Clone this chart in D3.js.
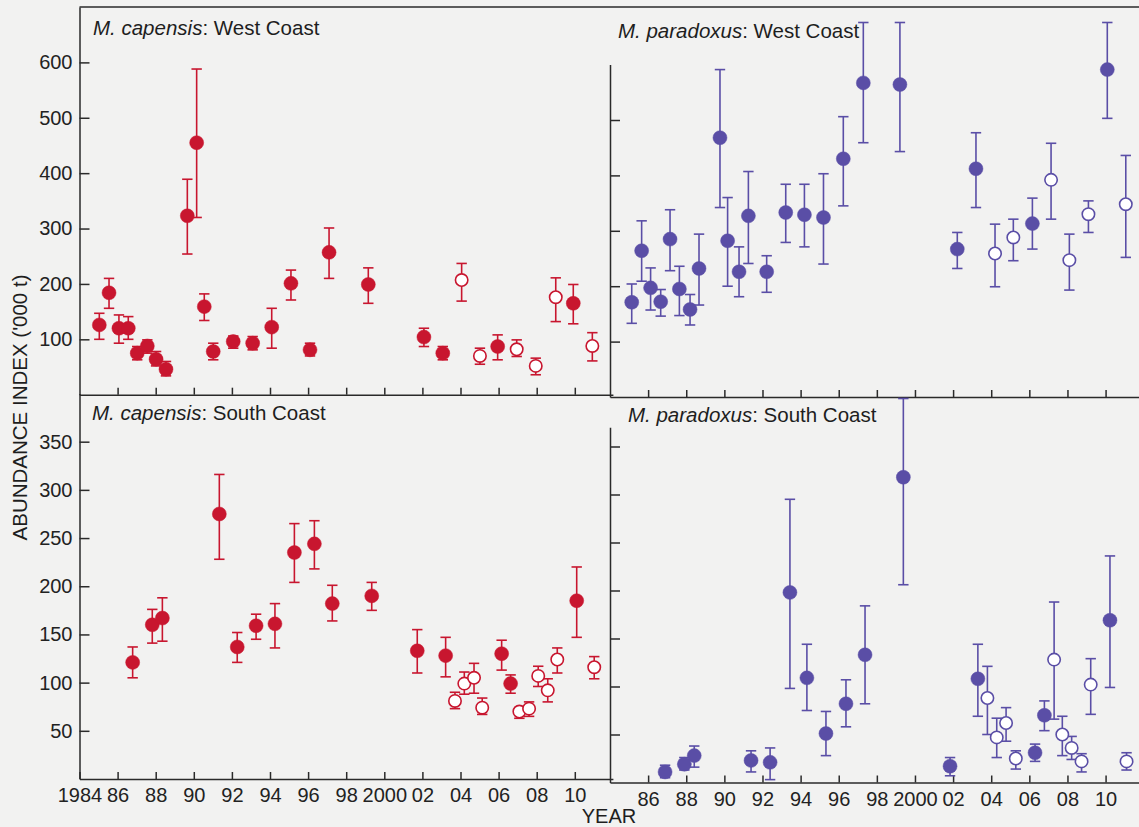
<!DOCTYPE html>
<html><head><meta charset="utf-8">
<script src="https://cdn.jsdelivr.net/npm/d3@7"></script>
<style>
html,body{margin:0;padding:0;background:#f2f2f1;}
svg{display:block;font-family:"Liberation Sans",Arial,Helvetica,sans-serif;}
</style></head><body>
<svg id="chart" width="1139" height="827"></svg>
<script>
// ---------- DATA ----------
// M. capensis : West Coast
const capWestYear = [1985.04,1985.55,1986.07,1986.56,1987.03,1987.56,1988.02,1988.54,1989.66,1990.15,1990.55,1991.02,1992.07,1993.09,1994.09,1995.1,1996.1,1997.1,1999.16,2002.08,2003.07,2004.06,2005.02,2005.95,2006.95,2007.95,2009.0,2009.92,2010.92];
const capWestVal  = [126,184,120,120,75,88,64,46,323,455,159,78,96,93,122,201,81,257,199,104,75,207,70,87,82,52,176,165,88];
const capWestLo   = [100,156,93,100,63,75,52,34,254,320,134,63,84,81,84,171,70,210,165,87,63,169,55,63,69,36,132,128,61];
const capWestHi   = [147,210,144,141,87,99,78,60,389,588,182,93,106,105,156,225,93,301,229,120,87,237,84,108,99,66,211,199,112];
const capWestOpen = [0,0,0,0,0,0,0,0,0,0,0,0,0,0,0,0,0,0,0,0,0,1,1,0,1,1,1,0,1];

// M. paradoxus : West Coast
const parWestYear = [1985.14,1985.66,1986.13,1986.66,1987.15,1987.64,1988.2,1988.67,1989.77,1990.17,1990.77,1991.26,1992.22,1993.22,1994.2,1995.2,1996.24,1997.29,1999.21,2002.22,2003.2,2004.2,2005.16,2006.16,2007.14,2008.1,2009.1,2010.09,2011.06];
const parWestVal  = [171,264,197,172,285,195,158,232,468,282,226,327,226,333,329,324,430,567,564,267,412,259,288,313,392,247,330,591,348];
const parWestLo   = [133,209,157,146,228,147,130,166,342,200,181,241,189,279,271,240,345,459,443,232,342,199,246,267,321,193,297,503,252];
const parWestHi   = [204,318,233,194,338,236,185,294,591,360,271,407,255,384,384,403,506,676,676,297,477,312,321,359,458,294,354,676,436];
const parWestOpen = [0,0,0,0,0,0,0,0,0,0,0,0,0,0,0,0,0,0,0,0,0,1,1,0,1,1,1,0,1];

// M. capensis : South Coast
const capSouthYear = [1986.79,1987.82,1988.35,1991.34,1992.28,1993.27,1994.26,1995.28,1996.33,1997.27,1999.34,2001.73,2003.22,2003.71,2004.2,2004.71,2005.14,2006.16,2006.63,2007.09,2007.6,2008.08,2008.58,2009.08,2010.1,2011.02];
const capSouthVal  = [121,160,167,275,137,159,161,235,244,182,190,133,128,81,99,105,74,130,99,70,73,107,92,124,185,116];
const capSouthLo   = [105,141,143,228,121,145,136,204,218,164,175,110,106,73,88,89,67,113,89,63,65,96,80,110,147,104];
const capSouthHi   = [137,176,188,316,152,171,182,265,268,201,204,155,147,90,111,120,84,144,108,74,80,117,104,136,220,127];
const capSouthOpen = [0,0,0,0,0,0,0,0,0,0,0,0,0,1,1,1,1,0,0,1,1,1,1,1,0,1];

// M. paradoxus : South Coast
const parSouthYear = [1986.89,1987.9,1988.42,1991.4,1992.4,1993.44,1994.33,1995.33,1996.38,1997.38,1999.39,2001.84,2003.3,2003.8,2004.29,2004.78,2005.29,2006.3,2006.79,2007.3,2007.73,2008.22,2008.74,2009.22,2010.23,2011.1];
const parSouthVal  = [11,19,28,23,21,198,109,51,82,133,318,17,108,88,47,62,25,31,70,128,50,36,22,102,169,22];
const parSouthLo   = [5,13,16,11,3,98,75,28,58,82,206,7,69,50,26,43,14,22,54,66,28,24,11,71,99,13];
const parSouthHi   = [18,26,38,33,36,295,144,74,107,184,400,26,144,121,67,78,33,40,85,188,69,48,30,129,236,31];
const parSouthOpen = [0,0,0,0,0,0,0,0,0,0,0,0,0,1,1,1,1,0,0,1,1,1,1,1,0,1];

// Tick values
const yTicksWest = [100,200,300,400,500,600];
const yTicksWestRight = [100,200,300,400,500];
const yTicksSouth = [50,100,150,200,250,300,350];
const xTicksLeft = [1984,1986,1988,1990,1992,1994,1996,1998,2000,2002,2004,2006,2008,2010];
const xTicksRight = [1986,1988,1990,1992,1994,1996,1998,2000,2002,2004,2006,2008,2010];

const yAxisTitle = "ABUNDANCE INDEX ('000 t)";
const xAxisTitle = "YEAR";

// ---------- DRAWING ----------
const RED = "#c8162f", BLUE = "#5a4ea6", INK = "#2a2a2a";
const svg = d3.select("#chart");
svg.append("rect").attr("width",1139).attr("height",827).attr("fill","#f2f2f1");

const fmtYear = d => (d === 1984 || d === 2000) ? String(d) : String(d).slice(2);

const panels = [
  {sp:"M. capensis", rest:": West Coast", tx:93, ty:35,
   years:capWestYear, vals:capWestVal, lo:capWestLo, hi:capWestHi, open:capWestOpen, color:RED,
   x:d3.scaleLinear([1984,2012],[79.5,612.9]), y:d3.scaleLinear([0,700],[394.7,7]),
   yTicks:yTicksWest, yLab:true, xTicks:xTicksLeft.slice(1), xLab:false, ax:79.5, ay:394.7},
  {sp:"M. paradoxus", rest:": West Coast", tx:618, ty:38,
   years:parWestYear, vals:parWestVal, lo:parWestLo, hi:parWestHi, open:parWestOpen, color:BLUE,
   x:d3.scaleLinear([1984,2012],[610,1143.7]), y:d3.scaleLinear([0,600],[397,64.6]),
   yTicks:yTicksWestRight, yLab:false, xTicks:xTicksRight, xLab:false, ax:610, ay:397},
  {sp:"M. capensis", rest:": South Coast", tx:92, ty:420,
   years:capSouthYear, vals:capSouthVal, lo:capSouthLo, hi:capSouthHi, open:capSouthOpen, color:RED,
   x:d3.scaleLinear([1984,2012],[79.5,612.9]), y:d3.scaleLinear([0,400],[779,393.5]),
   yTicks:yTicksSouth, yLab:true, xTicks:xTicksLeft, xLab:true, ax:79.5, ay:779},
  {sp:"M. paradoxus", rest:": South Coast", tx:628, ty:422,
   years:parSouthYear, vals:parSouthVal, lo:parSouthLo, hi:parSouthHi, open:parSouthOpen, color:BLUE,
   x:d3.scaleLinear([1984,2012],[610,1143.7]), y:d3.scaleLinear([0,370],[782.5,427.3]),
   yTicks:yTicksSouth, yLab:false, xTicks:xTicksRight, xLab:true, ax:610, ay:782.5}
];

// top frame line
svg.append("line").attr("x1",79.5).attr("x2",1139).attr("y1",7).attr("y2",7)
  .attr("stroke",INK).attr("stroke-width",1.5);

panels.forEach(p => {
  const ya = svg.append("g").attr("transform",`translate(${p.ax},0)`)
    .call(d3.axisLeft(p.y).tickValues(p.yTicks).tickSizeInner(-10).tickSizeOuter(0).tickPadding(7)
      .tickFormat(p.yLab ? d3.format("d") : () => ""));
  const xa = svg.append("g").attr("transform",`translate(0,${p.ay})`)
    .call(d3.axisBottom(p.x).tickValues(p.xTicks).tickSizeInner(-7).tickSizeOuter(0).tickPadding(9)
      .tickFormat(p.xLab ? fmtYear : () => ""));
  [ya, xa].forEach(g => {
    g.attr("color",INK).attr("font-size",20).attr("font-family","'Liberation Sans',Arial,sans-serif");
    g.selectAll("path,line").attr("stroke-width",1.5);
    g.selectAll("text").attr("fill","#222");
  });

  const t = svg.append("text").attr("x",p.tx).attr("y",p.ty)
    .attr("font-size",20.5).attr("fill","#1e1e1e");
  t.append("tspan").attr("font-style","italic").text(p.sp);
  t.append("tspan").text(p.rest);

  const data = p.years.map((yr,i) => ({yr, v:p.vals[i], lo:p.lo[i], hi:p.hi[i], open:p.open[i]===1}));
  const g = svg.append("g");
  const eb = g.selectAll("g.eb").data(data).join("g").attr("class","eb")
    .attr("stroke",p.color).attr("stroke-width",1.6).attr("fill","none");
  eb.append("line").attr("x1",d=>p.x(d.yr)).attr("x2",d=>p.x(d.yr))
    .attr("y1",d=>p.y(d.hi)).attr("y2",d=>p.y(d.lo));
  eb.append("line").attr("x1",d=>p.x(d.yr)-5.2).attr("x2",d=>p.x(d.yr)+5.2)
    .attr("y1",d=>p.y(d.hi)).attr("y2",d=>p.y(d.hi));
  eb.append("line").attr("x1",d=>p.x(d.yr)-5.2).attr("x2",d=>p.x(d.yr)+5.2)
    .attr("y1",d=>p.y(d.lo)).attr("y2",d=>p.y(d.lo));
  g.selectAll("circle").data(data).join("circle")
    .attr("cx",d=>p.x(d.yr)).attr("cy",d=>p.y(d.v))
    .attr("r",d=>d.open ? 6.2 : 7)
    .attr("fill",d=>d.open ? "#ffffff" : p.color)
    .attr("stroke",p.color).attr("stroke-width",d=>d.open ? 1.6 : 0.5);
});

svg.append("text").attr("transform","translate(27,407.5) rotate(-90)")
  .attr("text-anchor","middle").attr("font-size",20.5).attr("fill","#1e1e1e").text(yAxisTitle);
svg.append("text").attr("x",609).attr("y",823).attr("text-anchor","middle")
  .attr("font-size",20).attr("fill","#1e1e1e").text(xAxisTitle);
</script>
</body></html>
